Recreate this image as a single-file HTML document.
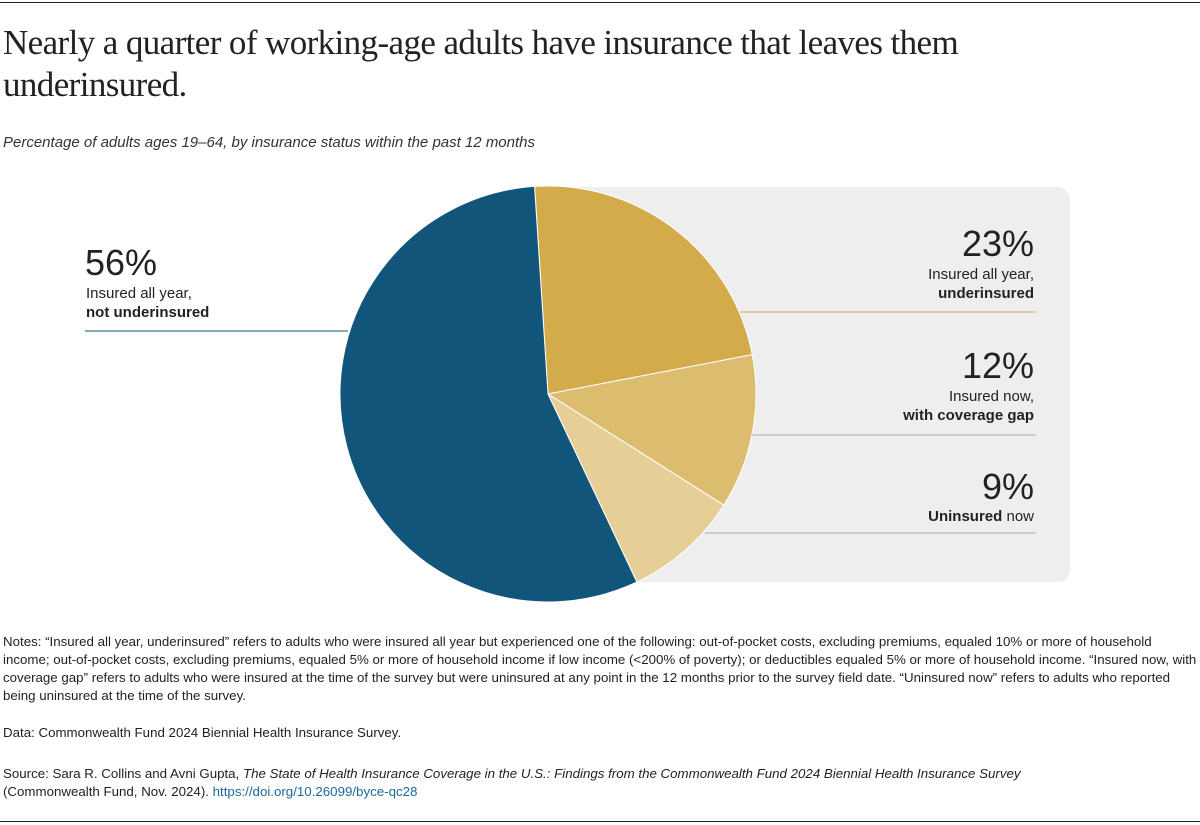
<!DOCTYPE html>
<html><head><meta charset="utf-8">
<style>
body{margin:0;width:1200px;height:825px;background:#fff;position:relative;font-family:"Liberation Sans",sans-serif;color:#222;overflow:hidden}
.abs{position:absolute}
#title{left:3px;top:22px;font-family:"Liberation Serif",serif;font-size:35px;line-height:42px;letter-spacing:-0.6px;color:#222;white-space:nowrap}
#sub{left:3px;top:134px;font-size:15px;font-style:italic;color:#333}
.notes{left:3px;font-size:13.3px;line-height:18px;color:#222;width:1195px}
a{color:#1b6a9c;text-decoration:none}
</style></head><body>
<div class="abs" style="left:0;top:2px;width:1200px;height:1px;background:#222"></div>
<div class="abs" id="title">Nearly a quarter of working-age adults have insurance that leaves them<br>underinsured.</div>
<div class="abs" id="sub">Percentage of adults ages 19–64, by insurance status within the past 12 months</div>
<svg class="abs" style="left:0;top:0" width="1200" height="825">
<rect x="540" y="187" width="530" height="395" rx="12" fill="#eeeeee"/>
<g id="slices"></g>
<g id="labels"></g>
</svg>
<div class="abs notes" style="top:633px">Notes: “Insured all year, underinsured” refers to adults who were insured all year but experienced one of the following: out-of-pocket costs, excluding premiums, equaled 10% or more of household income; out-of-pocket costs, excluding premiums, equaled 5% or more of household income if low income (&lt;200% of poverty); or deductibles equaled 5% or more of household income. “Insured now, with coverage gap” refers to adults who were insured at the time of the survey but were uninsured at any point in the 12 months prior to the survey field date. “Uninsured now” refers to adults who reported being uninsured at the time of the survey.</div>
<div class="abs notes" style="top:724px">Data: Commonwealth Fund 2024 Biennial Health Insurance Survey.</div>
<div class="abs notes" style="top:765px">Source: Sara R. Collins and Avni Gupta, <i>The State of Health Insurance Coverage in the U.S.: Findings from the Commonwealth Fund 2024 Biennial Health Insurance Survey</i><br>(Commonwealth Fund, Nov. 2024). <a>https://doi.org/10.26099/byce-qc28</a></div>
<div class="abs" style="left:0;top:821px;width:1200px;height:1px;background:#222"></div>
<script>
const categories=["Insured all year, underinsured","Insured now, with coverage gap","Uninsured now","Insured all year, not underinsured"];
const values=[23,12,9,56];
const pcts=["23%","12%","9%","56%"];
const colors=["#d3ab4b","#dcbc6e","#e5cf96","#12557a"];
const NS="http://www.w3.org/2000/svg";
const cx=548,cy=394,r=208,startDeg=-3.7;
const total=values.reduce((a,b)=>a+b,0);
function pt(deg,rad){const a=(deg-90)*Math.PI/180;return [cx+rad*Math.cos(a),cy+rad*Math.sin(a)];}
const g=document.getElementById('slices');
let acc=startDeg;
values.forEach((v,i)=>{
  const sweep=v/total*360;const p1=pt(acc,r),p2=pt(acc+sweep,r);
  const p=document.createElementNS(NS,'path');
  p.setAttribute('d',`M${cx},${cy}L${p1[0]},${p1[1]}A${r},${r} 0 ${sweep>180?1:0} 1 ${p2[0]},${p2[1]}Z`);
  p.setAttribute('fill',colors[i]);p.setAttribute('stroke','#fff');p.setAttribute('stroke-width','1');
  
  
  g.appendChild(p);acc+=sweep;
});
const L=document.getElementById('labels');
function line(x1,y,x2,col,name){const l=document.createElementNS(NS,'line');l.setAttribute('x1',x1);l.setAttribute('x2',x2);l.setAttribute('y1',y);l.setAttribute('y2',y);l.setAttribute('stroke',col);l.setAttribute('stroke-width','1');


L.appendChild(l);}
function txt(x,y,s,size,weight,anchor,name){const t=document.createElementNS(NS,'text');t.setAttribute('x',x);t.setAttribute('y',y);t.setAttribute('font-size',size);t.setAttribute('font-weight',weight);t.setAttribute('text-anchor',anchor);t.setAttribute('fill','#222');t.setAttribute('font-family','Liberation Sans, sans-serif');t.innerHTML=s;


L.appendChild(t);}
line(740,312,1036,'#d3ab4b','leader-underinsured');
line(752,435,1036,'#aaaaaa','leader-gap');
line(705,533,1036,'#aaaaaa','leader-uninsured');
line(85,331,348,'#12557a','leader-not-underinsured');
txt(1034,256,pcts[0],36,'normal','end','value-underinsured');
txt(1034,279,'Insured all year,',15,'normal','end','label-underinsured-1');
txt(1034,298,'underinsured',15,'bold','end','label-underinsured-2');
txt(1034,378,pcts[1],36,'normal','end','value-gap');
txt(1034,401,'Insured now,',15,'normal','end','label-gap-1');
txt(1034,420,'with coverage gap',15,'bold','end','label-gap-2');
txt(1034,499,pcts[2],36,'normal','end','value-uninsured');
txt(1034,521,'<tspan font-weight="bold">Uninsured</tspan> now',15,'normal','end','label-uninsured');
txt(85,275,pcts[3],36,'normal','start','value-not-underinsured');
txt(86,298,'Insured all year,',15,'normal','start','label-not-underinsured-1');
txt(86,317,'not underinsured',15,'bold','start','label-not-underinsured-2');
</script>
</body></html>
